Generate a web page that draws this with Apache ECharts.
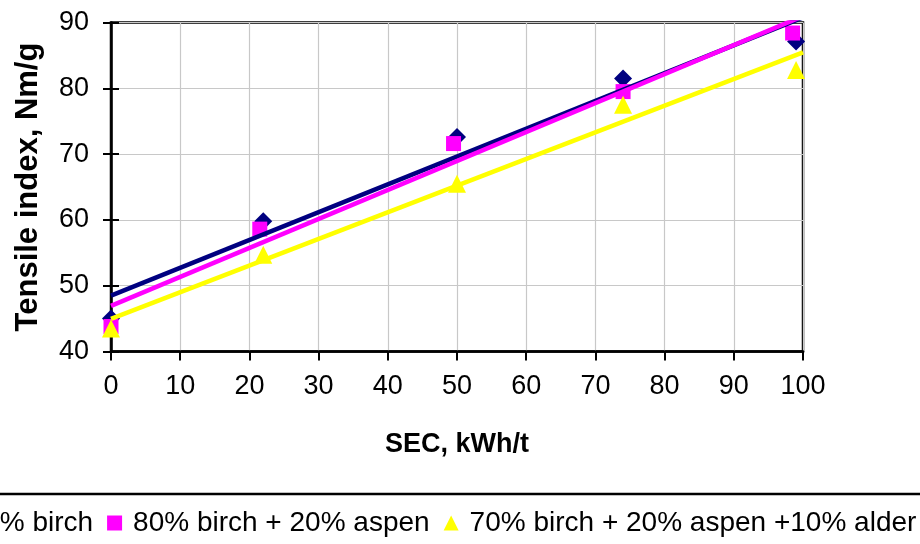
<!DOCTYPE html>
<html>
<head>
<meta charset="utf-8">
<script src="https://cdn.jsdelivr.net/npm/echarts@6/dist/echarts.min.js"></script>
<style>
  html, body { margin: 0; padding: 0; background: #fff; }
  #chart { width: 920px; height: 544px; }
</style>
</head>
<body>
<div id="chart"></div>
<script>
// Measured tensile index versus specific energy consumption for three furnishes
const seriesNames = ['100% birch', '80% birch + 20% aspen', '70% birch + 20% aspen +10% alder'];

const birchSEC = [0, 22, 50, 74, 99];
const birchTI = [45.0, 59.8, 72.6, 81.5, 87.1];

const aspenSEC = [0, 21.5, 49.5, 74, 98.5];
const aspenTI = [43.8, 58.6, 71.6, 79.5, 88.4];

const alderSEC = [0, 22, 50, 74, 99];
const alderTI = [43.5, 54.7, 65.5, 77.5, 82.8];

const xTicks = [0, 10, 20, 30, 40, 50, 60, 70, 80, 90, 100];
const yTicks = [40, 50, 60, 70, 80, 90];

const colors = ['#000080', '#FF00FF', '#FFFF00'];
const symbols = ['diamond', 'rect', 'triangle'];
const symbolSizes = [18, 15, 18];

// Least-squares linear trend, evaluated across the x-axis range
function trend(xs, ys, x0, x1) {
  const n = xs.length;
  const mx = xs.reduce((a, b) => a + b, 0) / n;
  const my = ys.reduce((a, b) => a + b, 0) / n;
  let sxy = 0, sxx = 0;
  for (let i = 0; i < n; i++) {
    sxy += (xs[i] - mx) * (ys[i] - my);
    sxx += (xs[i] - mx) * (xs[i] - mx);
  }
  const slope = sxy / sxx;
  const icpt = my - slope * mx;
  return [[x0, icpt + slope * x0], [x1, icpt + slope * x1]];
}

const sets = [[birchSEC, birchTI], [aspenSEC, aspenTI], [alderSEC, alderTI]];
const xMin = xTicks[0], xMax = xTicks[xTicks.length - 1];
const yMin = yTicks[0], yMax = yTicks[yTicks.length - 1];

const series = [];
sets.forEach(([xs, ys], i) => {
  series.push({
    name: seriesNames[i],
    type: 'scatter',
    data: xs.map((x, j) => [x, ys[j]]),
    symbol: symbols[i],
    symbolSize: symbolSizes[i],
    itemStyle: { color: colors[i], opacity: 1 },
    z: 3
  });
});
sets.forEach(([xs, ys], i) => {
  series.push({
    name: seriesNames[i] + ' trend',
    type: 'line',
    data: trend(xs, ys, xMin, xMax),
    showSymbol: false,
    symbol: 'none',
    clip: true,
    lineStyle: { color: colors[i], width: 4.5 },
    silent: true,
    z: 4
  });
});

const font = 'Arial, "Liberation Sans", sans-serif';
const chart = echarts.init(document.getElementById('chart'), null, { renderer: 'canvas' });
chart.setOption({
  animation: false,
  backgroundColor: '#ffffff',
  textStyle: { fontFamily: font },
  grid: {
    left: 111, right: 117, top: 22.5, bottom: 192.5,
    show: true, borderColor: '#000', borderWidth: 2.5, backgroundColor: 'transparent'
  },
  xAxis: {
    type: 'value',
    min: xMin, max: xMax, interval: 10,
    name: 'SEC, kWh/t',
    nameLocation: 'middle',
    nameGap: 80,
    nameTextStyle: { fontFamily: font, fontSize: 27, fontWeight: 'bold', color: '#000' },
    axisLine: { show: true, onZero: false, lineStyle: { color: '#000', width: 2.5 } },
    axisTick: { show: true, inside: false, length: 9, lineStyle: { color: '#000', width: 2 } },
    axisLabel: { fontFamily: font, fontSize: 27, color: '#000', margin: 22 },
    splitLine: { show: true, lineStyle: { color: '#c8c8c8', width: 1.2 } }
  },
  yAxis: [
    {
      type: 'value',
      min: yMin, max: yMax, interval: 10,
      name: 'Tensile index, Nm/g',
      nameLocation: 'middle',
      nameGap: 67,
      nameTextStyle: { fontFamily: font, fontSize: 31, fontWeight: 'bold', color: '#000' },
      axisLine: { show: true, onZero: false, lineStyle: { color: '#000', width: 2.5 } },
      axisTick: { show: true, inside: false, length: 8, lineStyle: { color: '#000', width: 2 } },
      axisLabel: { fontFamily: font, fontSize: 27, color: '#000', margin: 22 },
      splitLine: { show: true, lineStyle: { color: '#c8c8c8', width: 1.2 } }
    },
    {
      type: 'value',
      position: 'left',
      min: yMin, max: yMax, interval: 10,
      axisLine: { show: false },
      axisTick: { show: true, inside: true, length: 8, lineStyle: { color: '#000', width: 2 } },
      axisLabel: { show: false },
      splitLine: { show: false }
    }
  ],
  legend: {
    data: seriesNames.map((n, i) => ({ name: n, icon: symbols[i] })),
    left: -78,
    top: 504,
    width: 1200,
    orient: 'horizontal',
    itemWidth: 15,
    itemHeight: 15,
    itemGap: 14,
    selectedMode: false,
    textStyle: { fontFamily: font, fontSize: 28, color: '#000', padding: [0, 0, 0, 6] }
  },
  graphic: [
    {
      type: 'line',
      shape: { x1: 0, y1: 494, x2: 920, y2: 494 },
      style: { stroke: '#000', lineWidth: 2.5 },
      silent: true
    }
  ],
  series: series
});
</script>
</body>
</html>
